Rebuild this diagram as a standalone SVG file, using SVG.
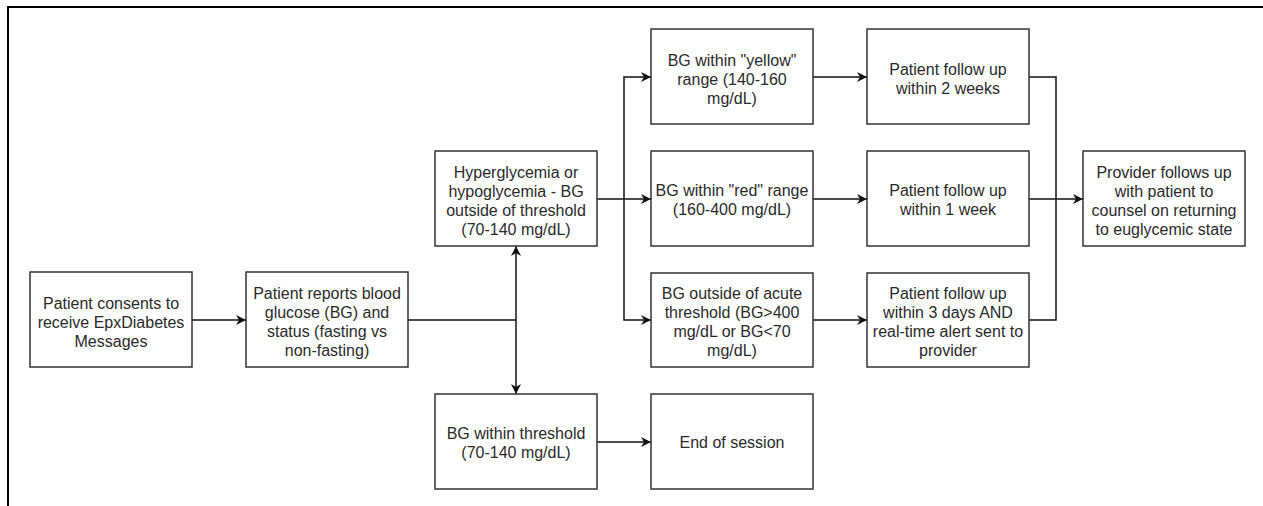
<svg xmlns="http://www.w3.org/2000/svg" width="1263" height="506" viewBox="0 0 1263 506">
<style>
.box{fill:#fff;stroke:#333;stroke-width:1.5}
.t{font-family:"Liberation Sans",Arial,sans-serif;font-size:16px;fill:#2a2a2a;text-anchor:middle}
.c{fill:none;stroke:#111;stroke-width:1.5}
.a{marker-end:url(#arr)}
.frame{fill:none;stroke:#000;stroke-width:2}
</style>
<defs>
<marker id="arr" viewBox="0 0 10 10" refX="10" refY="5" markerWidth="10" markerHeight="10" markerUnits="userSpaceOnUse" orient="auto">
<path d="M0,0 L10,5 L0,10 L3,5 z" fill="#111"/>
</marker>
</defs>
<path class="frame" d="M8,506 V7 H1263"/>
<g id="connectors">
<path class="c a" d="M192,320 H246"/>
<path class="c" d="M408,320 H516"/>
<path class="c a" d="M516,320 V246"/>
<path class="c a" d="M516,320 V394"/>
<path class="c a" d="M597,199 H651"/>
<path class="c a" d="M624,199 V77 H651"/>
<path class="c a" d="M624,199 V320 H651"/>
<path class="c a" d="M597,442 H651"/>
<path class="c a" d="M813,77 H867"/>
<path class="c a" d="M813,199 H867"/>
<path class="c a" d="M813,320 H867"/>
<path class="c" d="M1029,77 H1056 V320 H1029"/>
<path class="c a" d="M1029,199 H1083"/>
</g>
<g id="consent">
<rect class="box" x="30" y="272" width="162" height="95"/>
<text class="t"><tspan x="111" y="309">Patient consents to</tspan><tspan x="111" y="328">receive EpxDiabetes</tspan><tspan x="111" y="347">Messages</tspan></text>
</g>
<g id="reports">
<rect class="box" x="246" y="272" width="162" height="95"/>
<text class="t"><tspan x="327" y="299">Patient reports blood</tspan><tspan x="327" y="318">glucose (BG) and</tspan><tspan x="327" y="337">status (fasting vs</tspan><tspan x="327" y="356">non-fasting)</tspan></text>
</g>
<g id="hyper">
<rect class="box" x="435" y="151" width="162" height="95"/>
<text class="t"><tspan x="516" y="178">Hyperglycemia or</tspan><tspan x="516" y="197">hypoglycemia - BG</tspan><tspan x="516" y="216">outside of threshold</tspan><tspan x="516" y="235">(70-140 mg/dL)</tspan></text>
</g>
<g id="within">
<rect class="box" x="435" y="394" width="162" height="95"/>
<text class="t"><tspan x="516" y="439">BG within threshold</tspan><tspan x="516" y="458">(70-140 mg/dL)</tspan></text>
</g>
<g id="yellow">
<rect class="box" x="651" y="29" width="162" height="95"/>
<text class="t"><tspan x="732" y="66">BG within "yellow"</tspan><tspan x="732" y="85">range (140-160</tspan><tspan x="732" y="104">mg/dL)</tspan></text>
</g>
<g id="red">
<rect class="box" x="651" y="151" width="162" height="95"/>
<text class="t"><tspan x="732" y="196">BG within "red" range</tspan><tspan x="732" y="215">(160-400 mg/dL)</tspan></text>
</g>
<g id="acute">
<rect class="box" x="651" y="273" width="162" height="94"/>
<text class="t"><tspan x="732" y="299">BG outside of acute</tspan><tspan x="732" y="318">threshold (BG&gt;400</tspan><tspan x="732" y="337">mg/dL or BG&lt;70</tspan><tspan x="732" y="356">mg/dL)</tspan></text>
</g>
<g id="end">
<rect class="box" x="651" y="394" width="162" height="95"/>
<text class="t"><tspan x="732" y="448">End of session</tspan></text>
</g>
<g id="week2">
<rect class="box" x="867" y="29" width="162" height="95"/>
<text class="t"><tspan x="948" y="75">Patient follow up</tspan><tspan x="948" y="94">within 2 weeks</tspan></text>
</g>
<g id="week1">
<rect class="box" x="867" y="151" width="162" height="95"/>
<text class="t"><tspan x="948" y="196">Patient follow up</tspan><tspan x="948" y="215">within 1 week</tspan></text>
</g>
<g id="days3">
<rect class="box" x="867" y="273" width="162" height="94"/>
<text class="t"><tspan x="948" y="299">Patient follow up</tspan><tspan x="948" y="318">within 3 days AND</tspan><tspan x="948" y="337">real-time alert sent to</tspan><tspan x="948" y="356">provider</tspan></text>
</g>
<g id="provider">
<rect class="box" x="1083" y="151" width="162" height="95"/>
<text class="t"><tspan x="1164" y="178">Provider follows up</tspan><tspan x="1164" y="197">with patient to</tspan><tspan x="1164" y="216">counsel on returning</tspan><tspan x="1164" y="235">to euglycemic state</tspan></text>
</g>
</svg>
